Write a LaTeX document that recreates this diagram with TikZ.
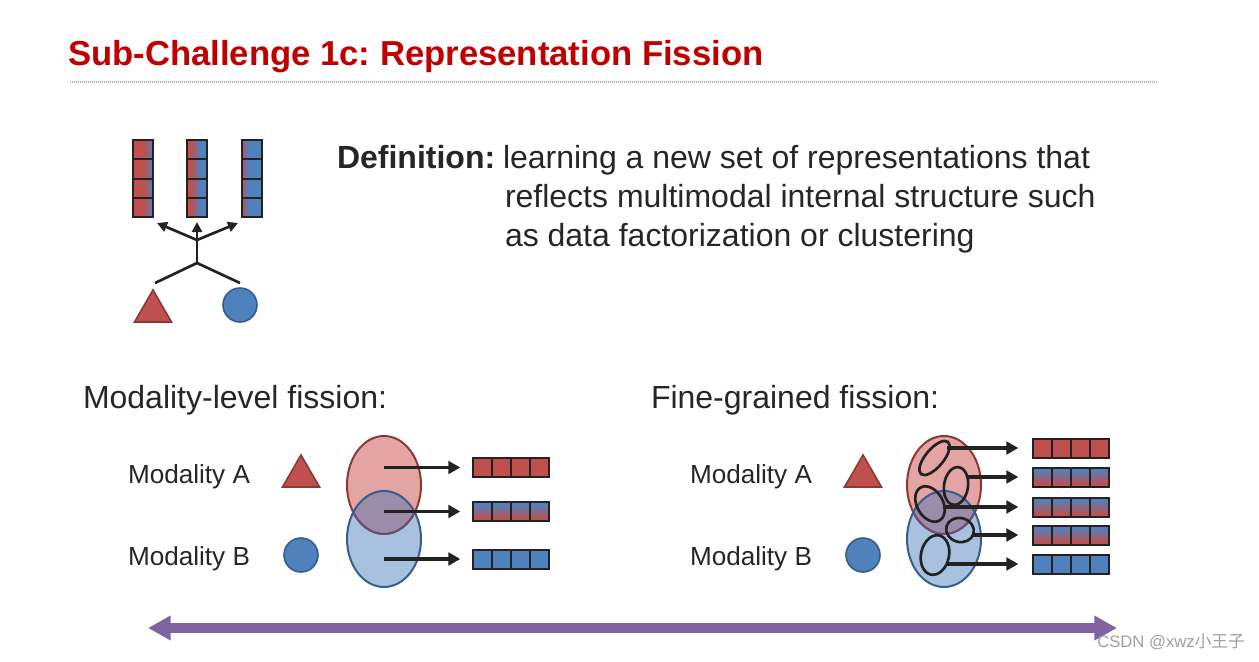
\documentclass[tikz,border=0pt]{standalone}
\usepackage{fontspec}
\setmainfont{Liberation Sans}
\newfontfamily\cjk{Noto Sans CJK SC}
\usetikzlibrary{arrows.meta,shapes.geometric,calc}
\frenchspacing
\definecolor{myred}{HTML}{C0504D}
\definecolor{myblue}{HTML}{4F81BD}
\definecolor{redline}{HTML}{8C3836}
\definecolor{blueline}{HTML}{345E8F}
\definecolor{purpline}{HTML}{6E4F74}
\definecolor{titlered}{HTML}{C00000}
\definecolor{txt}{HTML}{262626}
\definecolor{dark}{HTML}{222222}
\definecolor{pinkfill}{HTML}{E3A4A3}
\definecolor{bluefill}{HTML}{A8C1DF}
\definecolor{overlapfill}{HTML}{9B8CAA}
\definecolor{arrowpurple}{HTML}{8064A2}
\pgfdeclarehorizontalshading{grA}{100bp}{color(0bp)=(myred); color(25bp)=(myred); color(52bp)=(myred); color(75bp)=(myblue); color(100bp)=(myblue)}
\pgfdeclarehorizontalshading{grB}{100bp}{color(0bp)=(myred); color(25bp)=(myred); color(35bp)=(myred); color(58bp)=(myblue); color(100bp)=(myblue)}
\pgfdeclarehorizontalshading{grC}{100bp}{color(0bp)=(myred); color(25bp)=(myred); color(42bp)=(myblue); color(100bp)=(myblue)}
\pgfdeclareverticalshading{grV}{100bp}{color(0bp)=(myred); color(30bp)=(myred); color(70bp)=(myblue); color(100bp)=(myblue)}
\newcommand\ellpair[1]{%
  \fill[pinkfill] (#1,485) ellipse [x radius=37,y radius=49];
  \fill[bluefill] (#1,539) ellipse [x radius=37,y radius=48];
  \begin{scope}
    \clip (#1,485) ellipse [x radius=37,y radius=49];
    \fill[overlapfill] (#1,539) ellipse [x radius=37,y radius=48];
  \end{scope}
  \draw[redline,line width=1.5pt] (#1,485) ellipse [x radius=37,y radius=49];
  \begin{scope}
    \clip (#1,539) ellipse [x radius=37,y radius=48];
    \draw[purpline,line width=1.5pt] (#1,485) ellipse [x radius=37,y radius=49];
  \end{scope}
  \draw[blueline,line width=1.5pt] (#1,539) ellipse [x radius=37,y radius=48];
}
\tikzset{
  txtnode/.style={anchor=base west,inner sep=0pt,outer sep=0pt,text=txt},
  hbar/.style={draw=dark,line width=1.5pt,minimum width=57pt,minimum height=14.25pt,inner sep=0pt,outer sep=0pt,
    path picture={\foreach \i in {1,2,3}{\draw[dark,line width=1.5pt]
      ($(path picture bounding box.south west)!\i/4!(path picture bounding box.south east)$) --
      ($(path picture bounding box.north west)!\i/4!(path picture bounding box.north east)$);}}},
  vbar/.style={draw=dark,line width=1.5pt,minimum width=15pt,minimum height=57.75pt,inner sep=0pt,outer sep=0pt,
    path picture={\foreach \i in {1,2,3}{\draw[dark,line width=1.5pt]
      ($(path picture bounding box.south west)!\i/4!(path picture bounding box.north west)$) --
      ($(path picture bounding box.south east)!\i/4!(path picture bounding box.north east)$);}}},
  tri/.style={regular polygon,regular polygon sides=3,minimum size=32pt,inner sep=0pt,fill=myred,draw=redline,line width=1.2pt},
  dot/.style={circle,minimum size=25.5pt,inner sep=0pt,fill=myblue,draw=blueline,line width=1.2pt},
  fisarrow/.style={dark,line width=2.6pt,-{Triangle[length=9pt,width=9.5pt]}},
  treeline/.style={dark,line width=2pt},
  treearrow/.style={dark,line width=2pt,-{Triangle[length=7.5pt,width=7.5pt]}},
  smallell/.style={dark,line width=2pt},
}
\begin{document}
\begin{tikzpicture}[x=0.75pt,y=-0.75pt]
\useasboundingbox (0,0) rectangle (1259,661);
% title
\node[txtnode,text=titlered,font=\fontsize{26}{30}\selectfont\bfseries] (title) at (68,65) {Sub-Challenge 1c: Representation Fission};
\draw[gray!60,line width=0.8pt,dash pattern=on 0.75pt off 0.75pt] (70,82) -- (1158,82);
% definition
\node[txtnode,font=\fontsize{24}{28}\selectfont\bfseries] (defh) at (337,168) {Definition:};
\node[txtnode,font=\fontsize{24}{28}\selectfont] (def1) at (503,168) {learning a new set of representations that};
\node[txtnode,font=\fontsize{24}{28}\selectfont] (def2) at (505,207) {reflects multimodal internal structure such};
\node[txtnode,font=\fontsize{24}{28}\selectfont] (def3) at (505,246) {as data factorization or clustering};
% icon top-left
\node[vbar,shading=grA] (v1) at (143,178.5) {};
\node[vbar,shading=grB] (v2) at (197,178.5) {};
\node[vbar,shading=grC] (v3) at (251.5,178.5) {};
\coordinate (j0) at (197,263);
\coordinate (j1) at (197,240);
\coordinate (lA) at (155,283);
\coordinate (lB) at (240,283);
\coordinate (tA) at (157,223);
\coordinate (tB) at (197,222);
\coordinate (tC) at (238,223);
\draw[treeline] (lA) -- (j0) -- (lB);
\draw[treeline] (j0) -- (j1);
\draw[treearrow] (j1) -- (tA);
\draw[treearrow] (j1) -- (tB);
\draw[treearrow] (j1) -- (tC);
\node[tri] (triT) at (153,311.3) {};
\node[dot] (dotT) at (240,305) {};
% section headers
\node[txtnode,font=\fontsize{24}{28}\selectfont] (mlf) at (83,408) {Modality-level fission:};
\node[txtnode,font=\fontsize{24}{28}\selectfont] (fgf) at (651,408) {Fine-grained fission:};
% modality-level
\node[txtnode,font=\fontsize{19.6}{23}\selectfont] (mA1) at (128,483) {Modality A};
\node[txtnode,font=\fontsize{19.6}{23}\selectfont] (mB1) at (128,565) {Modality B};
\node[tri] (tri1) at (301,476.3) {};
\node[dot] (dot1) at (301,555) {};
\ellpair{384}
\node[hbar,fill=myred] (b11) at (511,467.5) {};
\node[hbar,shading=grV] (b12) at (511,511.5) {};
\node[hbar,fill=myblue] (b13) at (511,559) {};
\coordinate (s11) at (384,467.5);
\coordinate (s12) at (384,511.5);
\coordinate (s13) at (384,559);
\draw[fisarrow,shorten >=9.5pt] (s11) -- (s11 -| b11.west);
\draw[fisarrow,shorten >=9.5pt] (s12) -- (s12 -| b12.west);
\draw[fisarrow,shorten >=9.5pt] (s13) -- (s13 -| b13.west);
% fine-grained
\node[txtnode,font=\fontsize{19.6}{23}\selectfont] (mA2) at (690,483) {Modality A};
\node[txtnode,font=\fontsize{19.6}{23}\selectfont] (mB2) at (690,565) {Modality B};
\node[tri] (tri2) at (863,476.3) {};
\node[dot] (dot2) at (863,555) {};
\ellpair{944}
\draw[smallell,rotate around={50:(934.5,458)}] (934.5,458) ellipse [x radius=21,y radius=9];
\draw[smallell,rotate around={-8:(956,486)}] (956,486) ellipse [x radius=12,y radius=19];
\draw[smallell,rotate around={30:(930,504)}] (930,504) ellipse [x radius=13,y radius=19];
\draw[smallell,rotate around={-15:(960,530)}] (960,530) ellipse [x radius=14,y radius=12];
\draw[smallell,rotate around={-12:(935,555)}] (935,555) ellipse [x radius=14,y radius=20];
\node[hbar,fill=myred] (b21) at (1071,448) {};
\node[hbar,shading=grV] (b22) at (1071,477) {};
\node[hbar,shading=grV] (b23) at (1071,507) {};
\node[hbar,shading=grV] (b24) at (1071,535) {};
\node[hbar,fill=myblue] (b25) at (1071,564) {};
\coordinate (s21) at (947,448);
\coordinate (s22) at (967,477);
\coordinate (s23) at (943,507);
\coordinate (s24) at (973,535);
\coordinate (s25) at (947,564);
\draw[fisarrow,shorten >=11pt] (s21) -- (s21 -| b21.west);
\draw[fisarrow,shorten >=11pt] (s22) -- (s22 -| b22.west);
\draw[fisarrow,shorten >=11pt] (s23) -- (s23 -| b23.west);
\draw[fisarrow,shorten >=11pt] (s24) -- (s24 -| b24.west);
\draw[fisarrow,shorten >=11pt] (s25) -- (s25 -| b25.west);
% purple double arrow
\coordinate (pl) at (148,628);
\coordinate (pr) at (1117,628);
\draw[arrowpurple,line width=7pt,{Triangle[length=17pt,width=17.5pt]}-{Triangle[length=17pt,width=17.5pt]}] (pl) -- (pr);
% watermark
\node[anchor=base west,inner sep=0pt,text=gray!75,font=\fontsize{12.5}{15}\selectfont] (wm) at (1097,647) {CSDN @xwz{\cjk 小王子}};
\end{tikzpicture}
\end{document}
